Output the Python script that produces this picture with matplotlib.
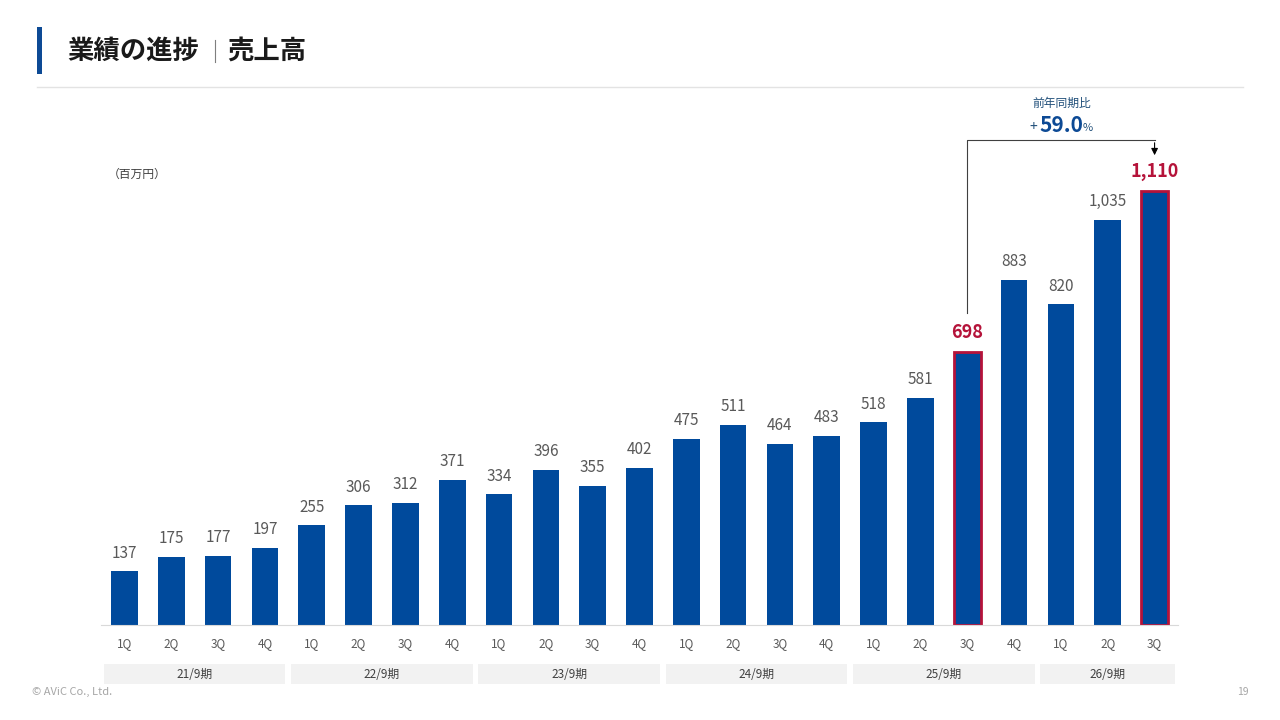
import matplotlib.pyplot as plt
import matplotlib.transforms as mtransforms
from matplotlib.patches import Rectangle
from matplotlib.lines import Line2D

plt.rcParams['font.family'] = ['Noto Sans CJK JP', 'DejaVu Sans']

# data
quarters = ['1Q', '2Q', '3Q', '4Q'] * 5 + ['1Q', '2Q', '3Q']
sales = [137, 175, 177, 197,
         255, 306, 312, 371,
         334, 396, 355, 402,
         475, 511, 464, 483,
         518, 581, 698, 883,
         820, 1035, 1110]
periods = ['21/9期', '22/9期', '23/9期', '24/9期', '25/9期', '26/9期']
period_len = [4, 4, 4, 4, 4, 3]
highlight = [18, 22]
yoy_text = '59.0'

blue = '#004A9C'
red = '#B5133A'
grey = '#595959'

fig = plt.figure(figsize=(12.8, 7.2), dpi=100)
ax = fig.add_axes([101 / 1280, 1 - 625 / 720, 1077 / 1280, 485 / 720])

x = list(range(len(sales)))
bars = ax.bar(x, sales, width=0.57, color=blue, zorder=2)
for i in highlight:
    bars[i].set_edgecolor(red)
    bars[i].set_linewidth(2)

for i, v in enumerate(sales):
    if i in highlight:
        ax.annotate(f'{v:,}', (i, v), xytext=(0, 7), textcoords='offset points',
                    ha='center', va='bottom', fontsize=13, fontweight='bold', color=red)
    else:
        ax.annotate(f'{v:,}', (i, v), xytext=(0, 7), textcoords='offset points',
                    ha='center', va='bottom', fontsize=11, color=grey)

ax.set_xlim(-0.5, len(sales) - 0.5)
ax.set_ylim(0, 1240)
ax.set_xticks(x)
ax.set_xticklabels(quarters, fontsize=8.5, color=grey)
ax.tick_params(axis='x', length=0, pad=9)
ax.set_yticks([])
for s in ['top', 'right', 'left']:
    ax.spines[s].set_visible(False)
ax.spines['bottom'].set_color('#D9D9D9')

# fiscal period boxes
trans = mtransforms.blended_transform_factory(ax.transData, fig.transFigure)
start = 0
for name, n in zip(periods, period_len):
    x0 = start - 0.5 + 0.06
    w = n - 0.12
    ax.add_patch(Rectangle((x0, 1 - 684 / 720), w, 20 / 720, transform=trans,
                           facecolor='#F2F2F2', edgecolor='none', clip_on=False))
    ax.text(x0 + w / 2, 1 - 674 / 720, name, transform=trans, ha='center', va='center',
            fontsize=8.5, color='#404040')
    start += n

# yoy bracket
i0, i1 = highlight
ytop = 1240
y0 = sales[i0] + 100
ax.plot([i0, i0, i1], [y0, ytop, ytop], color='#404040', lw=0.8, clip_on=False)
ax.annotate('', xy=(i1, sales[i1] + 84), xytext=(i1, ytop),
            arrowprops=dict(arrowstyle='-|>', color='black', lw=0.8, mutation_scale=10),
            annotation_clip=False)
fig.text(1062 / 1280, 1 - 103 / 720, '前年同期比', ha='center', va='center',
         fontsize=8.5, color='#1F4E79')
fig.text(1029 / 1280, 1 - 127 / 720, '+', ha='left', va='center', fontsize=10, color='#1F4E79')
fig.text(1039 / 1280, 1 - 126 / 720, yoy_text, ha='left', va='center', fontsize=15,
         fontweight='bold', color='#0D4A95')
fig.text(1083 / 1280, 1 - 128 / 720, '%', ha='left', va='center', fontsize=8, color='#1F4E79')

# header
fig.add_artist(Rectangle((37 / 1280, 1 - 74 / 720), 5 / 1280, 47 / 720,
                         transform=fig.transFigure, facecolor='#0D4A95', edgecolor='none'))
fig.add_artist(Line2D([37 / 1280, 1243 / 1280], [1 - 87 / 720] * 2,
                      transform=fig.transFigure, color='#E3E3E3', lw=1))
fig.text(67 / 1280, 1 - 51 / 720, '業績の進捗', ha='left', va='center',
         fontsize=19, fontweight='bold', color='#1A1A1A')
fig.add_artist(Line2D([215 / 1280, 215 / 1280], [1 - 62 / 720, 1 - 40 / 720],
                      transform=fig.transFigure, color='#7F7F7F', lw=0.8))
fig.text(227 / 1280, 1 - 51 / 720, '売上高', ha='left', va='center',
         fontsize=19, fontweight='bold', color='#1A1A1A')
fig.text(108 / 1280, 1 - 174 / 720, '（百万円）', ha='left', va='center', fontsize=8.5, color='#404040')

# footer
fig.text(32 / 1280, 1 - 692 / 720, '© AViC Co., Ltd.', ha='left', va='center',
         fontsize=8, color='#A6A6A6')
fig.text(1249 / 1280, 1 - 692 / 720, '19', ha='right', va='center', fontsize=7.5, color='#A6A6A6')

fig.savefig('out.png', dpi=100)
